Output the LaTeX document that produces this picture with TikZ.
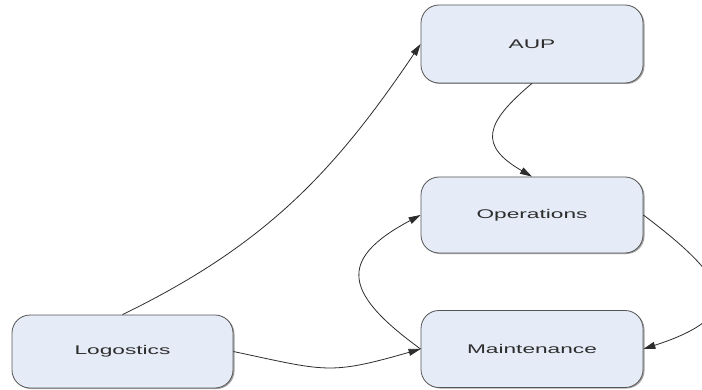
\documentclass[tikz,border=0pt]{standalone}
\usepackage{fontspec}
\newfontfamily\boxfont[FakeStretch=1.8]{Liberation Sans}
\usetikzlibrary{arrows.meta,shadows}
\definecolor{boxfill}{RGB}{230,236,247}
\definecolor{boxline}{RGB}{85,85,85}
\definecolor{edgecol}{RGB}{45,45,45}
\definecolor{txtcol}{RGB}{45,45,45}
\tikzset{
  box/.style={draw=boxline, fill=boxfill, line width=0.8pt, rounded corners=18pt,
    minimum width=222pt, minimum height=77pt, inner sep=0pt,
    text=txtcol, font=\boxfont\fontsize{12.6}{14}\selectfont,
    drop shadow={shadow xshift=1.5pt, shadow yshift=-1pt, fill=black!60, opacity=0.6}},
  arr/.style={draw=edgecol, line width=0.8pt, -{Triangle[length=12pt,width=7pt]}}
}
\begin{document}
\begin{tikzpicture}[x=1pt,y=1pt]
\path[use as bounding box, clip] (0,0) rectangle (702,389);
\fill[white] (0,0) rectangle (702,389);
\node[box, minimum height=78pt] (aup) at (532,345) {AUP};
\node[box, minimum height=76pt] (ops) at (532,174) {Operations};
\node[box] (maint) at (532,40) {Maintenance};
\node[box, minimum width=221pt, minimum height=73pt] (log) at (122.5,37.5) {Logostics};
\draw[arr] (log.north) to[out=26,in=236] (aup.west);
\draw[arr] (aup.south) .. controls +(220:62) and +(150:62) .. (ops.north);
\draw[arr] (ops.east) .. controls +(-37:110) and +(18:110) .. (maint.east);
\draw[arr] (maint.west) .. controls +(144:95) and +(208:95) .. (ops.west);
\draw[arr] (log.east) to[out=-12,in=196,looseness=1.3] (maint.west);
\end{tikzpicture}
\end{document}
